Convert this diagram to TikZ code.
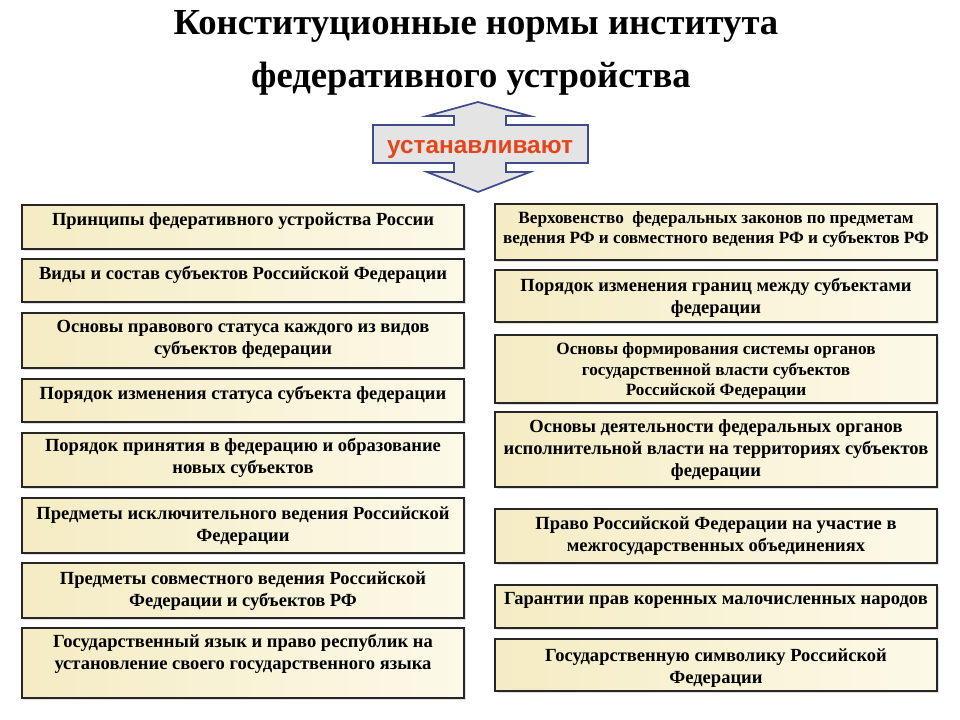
\documentclass[tikz,border=0pt]{standalone}
\usepackage{fontspec}
\setmainfont{Liberation Serif}
\setsansfont{Liberation Sans}
\usetikzlibrary{shapes,arrows,positioning,calc,fit,shadows}

\definecolor{boxdark}{HTML}{F5ECC4}
\definecolor{boxlight}{HTML}{FCF9E8}
\definecolor{arrowline}{HTML}{3F4C8C}
\definecolor{arrowfill}{HTML}{E4E4E4}
\definecolor{verbred}{HTML}{E3461B}

\begin{document}
\begin{tikzpicture}[x=0.75pt, y=-0.75pt]
  \tikzstyle{item}=[rectangle, draw=black!85, line width=1.1pt, left color=boxdark, right color=boxlight, inner sep=0pt, drop shadow={shadow xshift=1.2pt, shadow yshift=-1.2pt, opacity=0.25}]
  \tikzstyle{itemtext}=[font=\bfseries\fontsize{13.9}{16.5}\selectfont, align=center, inner sep=0pt, anchor=north]
  \tikzstyle{smalltext}=[font=\bfseries\fontsize{12.9}{15.4}\selectfont]
  \tikzstyle{head}=[font=\bfseries\fontsize{27.5}{30}\selectfont, anchor=base, inner sep=0pt]

  \useasboundingbox (0,0) rectangle (960,720);

  % Заголовок
  \node[head] (title1) at (476,35) {Конституционные нормы института};
  \node[head] (title2) at (471,88) {федеративного устройства};

  % Двойная стрелка
  \draw[draw=arrowline, line width=1.3pt, fill=arrowfill] (478,102) -- (530,116) -- (506,116) -- (506,125) -- (588,125) -- (588,163) -- (506,163) -- (506,172) -- (530,172) -- (478,192) -- (427,172) -- (454,172) -- (454,163) -- (373,163) -- (373,125) -- (454,125) -- (454,116) -- (427,116) -- cycle;
  \node[font=\sffamily\bfseries\fontsize{18.3}{21}\selectfont, text=verbred] (verb) at (480,149) {устанавливают};

  % Левая колонка
  \node[item, fit={(22,205) (464,249)}] (l1) {};
  \node[item, fit={(22,259) (464,302)}] (l2) {};
  \node[item, fit={(22,313) (464,368)}] (l3) {};
  \node[item, fit={(22,379) (464,422)}] (l4) {};
  \node[item, fit={(22,433) (464,487)}] (l5) {};
  \node[item, fit={(22,498) (464,553)}] (l6) {};
  \node[item, fit={(22,563) (464,618)}] (l7) {};
  \node[item, fit={(22,628) (464,698)}] (l8) {};

  \node[itemtext] (l1t) at ($(l1.north)+(0,8)$) {Принципы федеративного устройства России};
  \node[itemtext] (l2t) at ($(l2.north)+(0,8)$) {Виды и состав субъектов Российской Федерации};
  \node[itemtext] (l3t) at ($(l3.north)+(0,8)$) {Основы правового статуса каждого из видов\\субъектов федерации};
  \node[itemtext] (l4t) at ($(l4.north)+(0,8)$) {Порядок изменения статуса субъекта федерации};
  \node[itemtext] (l5t) at ($(l5.north)+(0,6)$) {Порядок принятия в федерацию и образование\\новых субъектов};
  \node[itemtext] (l6t) at ($(l6.north)+(0,9)$) {Предметы исключительного ведения Российской\\Федерации};
  \node[itemtext] (l7t) at ($(l7.north)+(0,9)$) {Предметы совместного ведения Российской\\Федерации и субъектов РФ};
  \node[itemtext] (l8t) at ($(l8.north)+(0,7)$) {Государственный язык и право республик на\\установление своего государственного языка};

  % Правая колонка
  \node[item, fit={(495,204) (937,260)}] (r1) {};
  \node[item, fit={(495,270) (937,322)}] (r2) {};
  \node[item, fit={(495,335) (937,403)}] (r3) {};
  \node[item, fit={(495,412) (937,487)}] (r4) {};
  \node[item, fit={(495,509) (937,563)}] (r5) {};
  \node[item, fit={(495,585) (937,628)}] (r6) {};
  \node[item, fit={(495,639) (937,691)}] (r7) {};

  \node[itemtext, smalltext] (r1t) at ($(r1.north)+(0,8)$) {Верховенство\ \ федеральных законов по предметам\\ведения РФ и совместного ведения РФ и субъектов РФ};
  \node[itemtext] (r2t) at ($(r2.north)+(0,9)$) {Порядок изменения границ между субъектами\\федерации};
  \node[itemtext, smalltext] (r3t) at ($(r3.north)+(0,8)$) {Основы формирования системы органов\\государственной власти субъектов\\Российской Федерации};
  \node[itemtext] (r4t) at ($(r4.north)+(0,8)$) {Основы деятельности федеральных органов\\исполнительной власти на территориях субъектов\\федерации};
  \node[itemtext] (r5t) at ($(r5.north)+(0,8)$) {Право Российской Федерации на участие в\\межгосударственных объединениях};
  \node[itemtext] (r6t) at ($(r6.north)+(0,8)$) {Гарантии прав коренных малочисленных народов};
  \node[itemtext] (r7t) at ($(r7.north)+(0,10)$) {Государственную символику Российской\\Федерации};
\end{tikzpicture}
\end{document}
